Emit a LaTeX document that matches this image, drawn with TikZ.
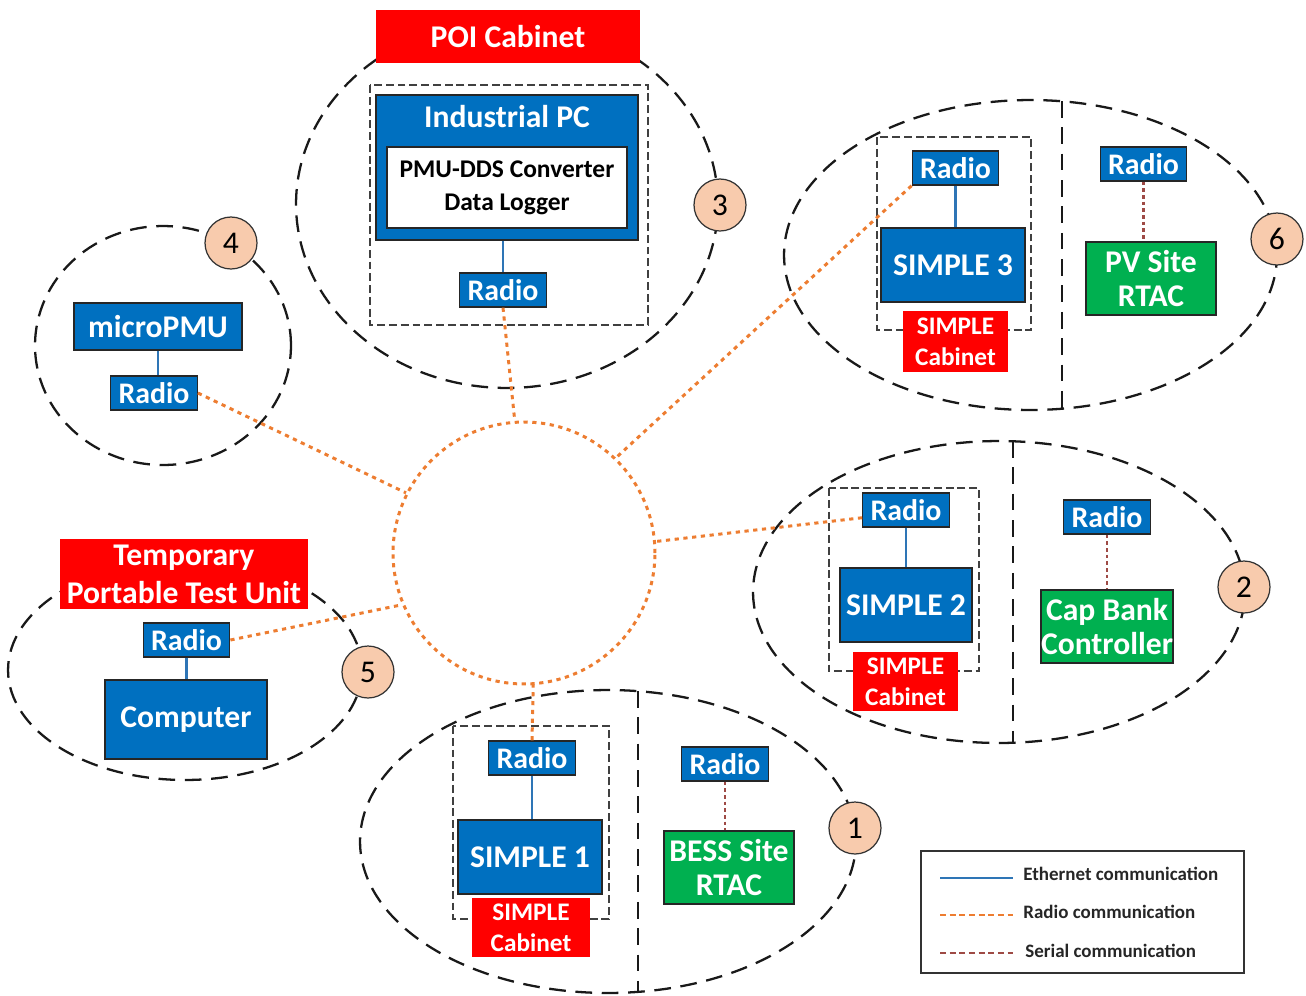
\documentclass[tikz,border=0pt]{standalone}
\usepackage{fontspec}
\setmainfont{Carlito}
\definecolor{cblue}{HTML}{0070C0}
\definecolor{cred}{HTML}{FF0000}
\definecolor{cgreen}{HTML}{00B050}
\definecolor{cpeach}{HTML}{F8CBAD}
\definecolor{corange}{HTML}{ED7D31}
\definecolor{cbrown}{HTML}{9E4A45}
\definecolor{ceth}{HTML}{2E75B6}
\begin{document}
\begin{tikzpicture}[x=0.02cm,y=-0.02cm,
  nodebox/.style={draw=black!85, line width=0.75pt, inner sep=0pt, text=white, font=\bfseries\fontsize{18}{19}\selectfont, align=center},
  bluebox/.style={nodebox, fill=cblue},
  greenbox/.style={nodebox, fill=cgreen},
  redbox/.style={nodebox, draw=none, fill=cred},
  radiobox/.style={bluebox, minimum width=1.73cm, minimum height=0.68cm, font=\bfseries\fontsize{17}{18}\selectfont},
  cabbox/.style={redbox, font=\bfseries\fontsize{14.4}{17.6}\selectfont},
  zone/.style={draw=black!90, line width=1.3pt, dash pattern=on 9.5pt off 5.5pt},
  cabframe/.style={draw=black!75, line width=0.7pt, dash pattern=on 4.5pt off 2.2pt},
  numcircle/.style={circle, draw=black!80, fill=cpeach, line width=0.7pt, minimum size=1.04cm, inner sep=0pt, font=\fontsize{18}{18}\selectfont},
  eth/.style={draw=ceth, line width=1.5pt},
  radiolink/.style={draw=corange, line width=1.7pt, dash pattern=on 2.4pt off 2.6pt},
  serial/.style={draw=cbrown, line width=1.3pt, dash pattern=on 2pt off 1.8pt},
  legtext/.style={anchor=west, inner sep=0pt, text=black!85, font=\bfseries\fontsize{10.8}{12}\selectfont}
]
\useasboundingbox (0,0) rectangle (1306,995);

% zones
\draw[zone] (507,204) ellipse [x radius=4.22cm, y radius=3.68cm];
\draw[zone] (163,345.5) ellipse [x radius=2.56cm, y radius=2.39cm];
\draw[zone] (1030.5,255) ellipse [x radius=4.93cm, y radius=3.1cm];
\draw[zone] (999,592) ellipse [x radius=4.92cm, y radius=3.02cm];
\draw[zone] (608,841.5) ellipse [x radius=4.96cm, y radius=3.03cm];
\draw[zone] (185,670) ellipse [x radius=3.54cm, y radius=2.2cm];

% dividers
\coordinate (d6a) at (1062,101); \coordinate (d6b) at (1062,409);
\coordinate (d2a) at (1013,441); \coordinate (d2b) at (1013,743);
\coordinate (d1a) at (638,691); \coordinate (d1b) at (638,992);
\draw[zone] (d6a) -- (d6b);
\draw[zone] (d2a) -- (d2b);
\draw[zone] (d1a) -- (d1b);

% cabinet frames
\draw[cabframe] (370,85) rectangle (648,325);
\draw[cabframe] (877,137) rectangle (1031,330);
\draw[cabframe] (829,488) rectangle (979,671);
\draw[cabframe] (453,726) rectangle (609,919);

% hub
\node[circle, radiolink, minimum size=5.24cm] (hub) at (524,553) {};

% cluster 3
\node[redbox, minimum width=5.28cm, minimum height=1.06cm] (poi) at (508,36.5) {POI Cabinet};
\node[bluebox, minimum width=5.24cm, minimum height=2.9cm] (ipc) at (507,167.5) {};
\node[text=white, inner sep=0pt, font=\bfseries\fontsize{18}{19}\selectfont] (ipclabel) at (507,117) {Industrial PC};
\node[draw=black!85, line width=0.75pt, fill=white, minimum width=4.8cm, minimum height=1.62cm, inner sep=0pt, align=center, font=\bfseries\fontsize{14.5}{18.7}\selectfont] (pmu) at (507,187.5) {PMU-DDS Converter\\Data Logger};
\node[radiobox] (r3) at (503,290) {Radio};
\node[numcircle] (n3) at (720,205) {3};

% cluster 4
\node[bluebox, minimum width=3.36cm, minimum height=0.94cm] (upmu) at (158,326.5) {microPMU};
\node[radiobox] (r4) at (154,393) {Radio};
\node[numcircle] (n4) at (231,243) {4};

% cluster 6
\node[radiobox] (r6) at (955.5,168) {Radio};
\node[bluebox, minimum width=2.88cm, minimum height=1.48cm] (s3) at (953,265) {SIMPLE 3};
\node[cabbox, minimum width=2.1cm, minimum height=1.22cm] (cab6) at (955.5,341.5) {SIMPLE\\Cabinet};
\node[radiobox] (pvr) at (1143.5,164) {Radio};
\node[greenbox, minimum width=2.6cm, minimum height=1.46cm] (pv) at (1151,278.5) {PV Site\\RTAC};
\node[numcircle] (n6) at (1277,239) {6};

% cluster 2
\node[radiobox] (r2) at (906,510) {Radio};
\node[bluebox, minimum width=2.64cm, minimum height=1.48cm] (s2) at (906,605) {SIMPLE 2};
\node[cabbox, minimum width=2.1cm, minimum height=1.18cm] (cab2) at (905.5,681.5) {SIMPLE\\Cabinet};
\node[radiobox] (capr) at (1107,517) {Radio};
\node[greenbox, minimum width=2.56cm, minimum height=1.46cm] (cap) at (1107,626.5) {Cap Bank\\Controller};
\node[numcircle] (n2) at (1244,587) {2};

% cluster 1
\node[radiobox] (r1) at (532,758) {Radio};
\node[bluebox, minimum width=2.88cm, minimum height=1.48cm] (s1) at (530,857) {SIMPLE 1};
\node[cabbox, minimum width=2.36cm, minimum height=1.18cm] (cab1) at (531,927.5) {SIMPLE\\Cabinet};
\node[radiobox] (bessr) at (725,764) {Radio};
\node[greenbox, minimum width=2.6cm, minimum height=1.46cm] (bess) at (729,867.5) {BESS Site\\RTAC};
\node[numcircle] (n1) at (855,828) {1};

% cluster 5
\node[redbox, minimum width=4.96cm, minimum height=1.4cm, font=\bfseries\fontsize{18}{21.5}\selectfont] (tmp) at (184,574) {Temporary\\Portable Test Unit};
\node[radiobox] (r5) at (186.5,640) {Radio};
\node[bluebox, minimum width=3.24cm, minimum height=1.58cm] (comp) at (186,719.5) {Computer};
\node[numcircle] (n5) at (368,672) {5};

% radio links
\draw[radiolink] (r3.south) -- (hub.94);
\draw[radiolink] (r4.east) -- (hub.153);
\draw[radiolink] (r6.south west) -- (hub.46);
\draw[radiolink] (r2.190) -- (hub.5);
\draw[radiolink] (r5.east) -- (hub.203);
\draw[radiolink] (r1.north) -- (hub.274);

% ethernet
\draw[eth] (r3.north |- ipc.south) -- (r3.north);
\draw[eth] (upmu.south) -- (upmu.south |- r4.north);
\draw[eth] (r6.south) -- (r6.south |- s3.north);
\draw[eth] (r2.south) -- (r2.south |- s2.north);
\draw[eth] (r1.south) -- (r1.south |- s1.north);
\draw[eth] (r5.south) -- (r5.south |- comp.north);

% serial
\draw[serial] (pvr.south) -- (pvr.south |- pv.north);
\draw[serial] (capr.south) -- (capr.south |- cap.north);
\draw[serial] (bessr.south) -- (bessr.south |- bess.north);

% legend
\node[draw=black!80, line width=0.8pt, minimum width=6.46cm, minimum height=2.44cm] (legend) at (1082.5,912) {};
\coordinate (le1a) at (940,878); \coordinate (le1b) at (1013,878);
\coordinate (le2a) at (940,915); \coordinate (le2b) at (1013,915);
\coordinate (le3a) at (940,953); \coordinate (le3b) at (1013,953);
\draw[eth] (le1a) -- (le1b);
\draw[draw=corange, line width=1.4pt, dash pattern=on 3.5pt off 2pt] (le2a) -- (le2b);
\draw[draw=cbrown, line width=1.4pt, dash pattern=on 3.5pt off 2pt] (le3a) -- (le3b);
\node[legtext] (lt1) at (1023,874) {Ethernet communication};
\node[legtext] (lt2) at (1023,912) {Radio communication};
\node[legtext] (lt3) at (1025,951) {Serial communication};
\end{tikzpicture}
\end{document}
